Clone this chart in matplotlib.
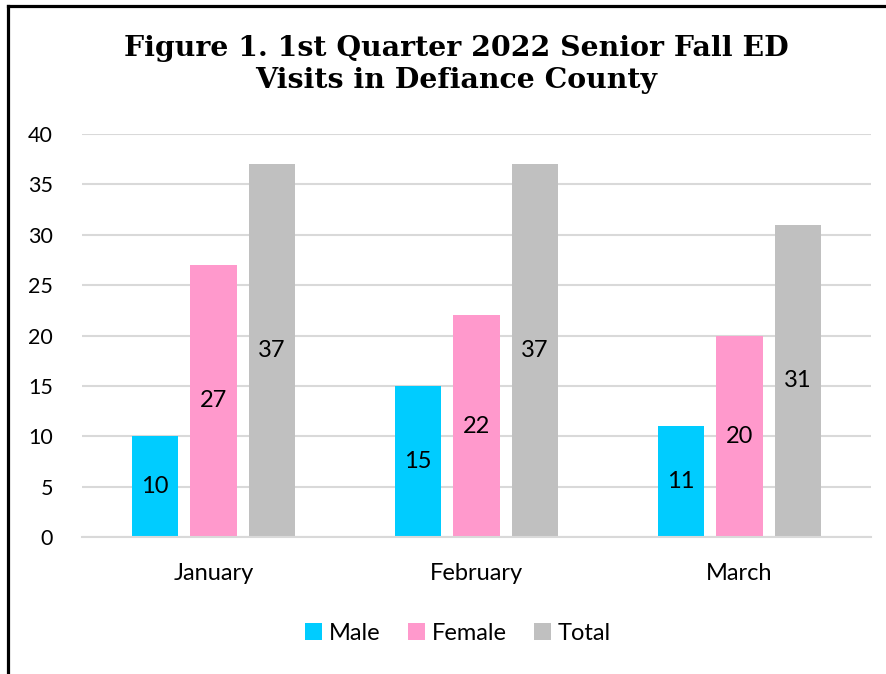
import matplotlib
matplotlib.use("Agg")
import matplotlib.pyplot as plt
import numpy as np
from matplotlib.lines import Line2D

months = ["January", "February", "March"]
series_names = ["Male", "Female", "Total"]
male = [10, 15, 11]
female = [27, 22, 20]
total = [37, 37, 31]
colors = ["#00CCFF", "#FF99CC", "#C0C0C0"]
yticks = [0, 5, 10, 15, 20, 25, 30, 35, 40]

W, H = 887, 674
fig = plt.figure(figsize=(W / 100, H / 100), dpi=100)
fig.patch.set_facecolor("white")

ax = fig.add_axes([82 / W, (H - 537) / H, (871 - 82) / W, (537 - 134) / H])

font = "Lato"
fs_tick = 15.5
fs = 17
x = np.arange(len(months))
bw = 0.175
step = 0.222
for i, (name, vals, c) in enumerate(zip(series_names, [male, female, total], colors)):
    xs = x + (i - 1) * step
    bars = ax.bar(xs, vals, width=bw, color=c, label=name, zorder=2)
    for b, v in zip(bars, vals):
        ax.text(b.get_x() + b.get_width() / 2, v / 2, str(v), ha="center", va="center",
                fontsize=fs, family=font, color="black", zorder=3)

ax.set_xlim(-0.5, 2.5)
ax.set_ylim(0, 40)
ax.set_yticks(yticks)
ax.set_yticklabels([str(t) for t in yticks], fontsize=fs_tick, family=font)
ax.set_xticks(x)
ax.set_xticklabels(months, fontsize=fs, family=font)
ax.tick_params(axis="y", length=0, pad=21)
ax.tick_params(axis="x", length=0, pad=19)
ax.grid(axis="y", color="#D9D9D9", linewidth=1.5, zorder=0)
ax.set_axisbelow(True)
for s in ["top", "right", "left"]:
    ax.spines[s].set_visible(False)
ax.spines["bottom"].set_color("#D9D9D9")
ax.spines["bottom"].set_linewidth(1.5)

fig.text(456 / W, 1 - 56 / H, "Figure 1. 1st Quarter 2022 Senior Fall ED", ha="center", va="baseline",
         fontsize=20.4, fontweight="bold", family="DejaVu Serif")
fig.text(456 / W, 1 - 88 / H, "Visits in Defiance County", ha="center", va="baseline",
         fontsize=20.4, fontweight="bold", family="DejaVu Serif")

leg = fig.legend(loc="center", bbox_to_anchor=(458 / W, 1 - 633 / H), ncol=3, frameon=False,
                 prop={"family": font, "size": fs}, handlelength=0.72, handleheight=0.72,
                 handletextpad=0.3, columnspacing=1.15)

fig.add_artist(Line2D([8 / W, 1], [1 - 5.5 / H, 1 - 5.5 / H], transform=fig.transFigure, color="black", linewidth=2.3))
fig.add_artist(Line2D([8 / W, 8 / W], [0, 1 - 5.5 / H], transform=fig.transFigure, color="black", linewidth=2.3))

fig.savefig("out.png", dpi=100, facecolor="white")
